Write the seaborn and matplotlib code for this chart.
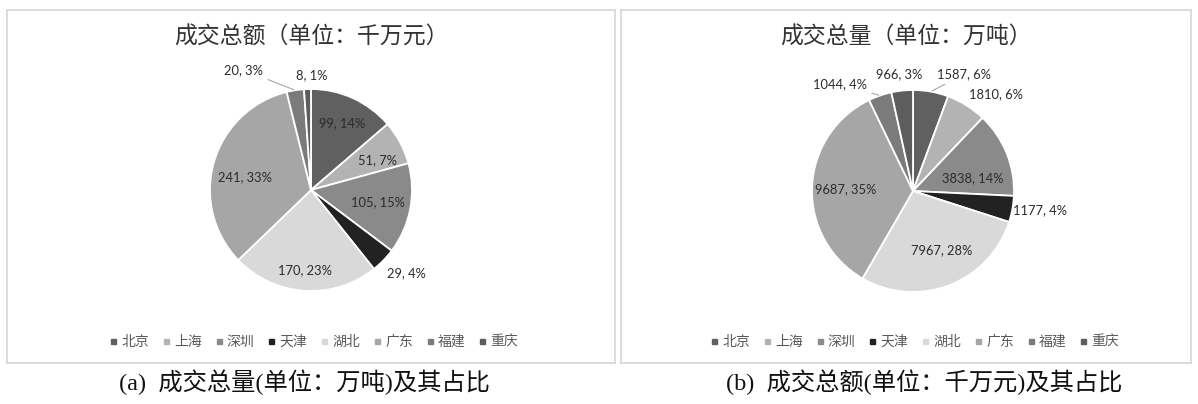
import numpy as np
import matplotlib
matplotlib.use("Agg")
import matplotlib.pyplot as plt
from matplotlib.lines import Line2D
import seaborn as sns

# ---- data ----
regions = ["北京", "上海", "深圳", "天津", "湖北", "广东", "福建", "重庆"]

amount_values = [99, 51, 105, 29, 170, 241, 20, 8]            # 千万元
amount_pcts = ["14%", "7%", "15%", "4%", "23%", "33%", "3%", "1%"]

volume_values = [1587, 1810, 3838, 1177, 7967, 9687, 1044, 966]  # 万吨
volume_pcts = ["6%", "6%", "14%", "4%", "28%", "35%", "4%", "3%"]

amount_title = "成交总额（单位：千万元）"
volume_title = "成交总量（单位：万吨）"
caption_a = "(a)  成交总量(单位：万吨)及其占比"
caption_b = "(b)  成交总额(单位：千万元)及其占比"

# ---- style ----
slice_colors = ["#606060", "#b3b3b3", "#8a8a8a", "#222222",
                "#d9d9d9", "#a6a6a6", "#7b7b7b", "#5d5d5d"]

# label distance (in radii) and angular nudge (deg) from each wedge's mid-angle
amount_label_dist = [0.73, 0.72, 0.67, 1.25, 0.80, 0.67, 1.36, 1.14]
amount_label_nudge = [0, -3.6, 0.6, 3.1, -0.5, 4.9, 20.3, -2.5]
amount_leader = [False, False, False, False, False, False, True, False]

volume_label_dist = [1.26, 1.26, 0.61, 1.27, 0.65, 0.67, 1.28, 1.17]
volume_label_nudge = [-13.4, -8.8, -9.6, 1.8, 4.4, 0.4, 15.2, 0.6]
volume_leader = [True, False, False, False, False, False, True, False]

W, H = 1198, 404
sns.set_theme(style="white")
plt.rcParams["font.family"] = ["Noto Sans CJK SC", "DejaVu Sans"]

fig = plt.figure(figsize=(W / 100, H / 100), dpi=100)
fig.patch.set_facecolor("white")

CJK = ["Noto Sans CJK SC", "DejaVu Sans"]
LABEL_FONT = ["Lato", "DejaVu Sans"]
SERIF = ["Liberation Serif", "Noto Sans CJK SC"]
R_PX = 101.0


def panel(box, center, values, pcts, title, dists, nudges, leaders, legend_x):
    x0, y0, x1, y1 = box
    cx, cy = center
    ax = fig.add_axes([x0 / W, 1 - y1 / H, (x1 - x0) / W, (y1 - y0) / H])
    ax.pie(values, colors=slice_colors, startangle=90, counterclock=False,
           radius=1.0, center=(0, 0), frame=True,
           wedgeprops=dict(edgecolor="white", linewidth=1.3))
    ax.set_aspect("auto")
    ax.set_xlim((x0 - cx) / R_PX, (x1 - cx) / R_PX)
    ax.set_ylim((cy - y1) / R_PX, (cy - y0) / R_PX)
    ax.set_xticks([])
    ax.set_yticks([])
    for sp in ax.spines.values():
        sp.set_visible(True)
        sp.set_color("#d9d9d9")
        sp.set_linewidth(1.3)

    total = float(np.sum(values))
    cum = np.cumsum([0] + list(values))[:-1]
    for v, c0, p, d, nd, lead in zip(values, cum, pcts, dists, nudges, leaders):
        mid = 90 - 360 * (c0 + v / 2) / total
        a = np.deg2rad(mid + nd)
        lx, ly = d * np.cos(a), d * np.sin(a)
        txt = f"{v}, {p}"
        if lead:
            m = np.deg2rad(mid)
            ax.annotate(txt, xy=(np.cos(m), np.sin(m)), xytext=(lx, ly),
                        ha="center", va="center", fontsize=9.3,
                        family=LABEL_FONT, color="#2b2b2b",
                        arrowprops=dict(arrowstyle="-", color="#a6a6a6",
                                        lw=0.8, shrinkA=1, shrinkB=1))
        else:
            ax.text(lx, ly, txt, ha="center", va="center", fontsize=9.3,
                    family=LABEL_FONT, color="#2b2b2b")

    fig.text((x0 + x1) / 2 / W, 1 - 37 / H, title, ha="center", va="center",
             fontsize=16.5, family=CJK, color="#333333")

    handles = [Line2D([], [], marker="s", linestyle="", markersize=3.6,
                      color=c) for c in slice_colors]
    ax.legend(handles, regions, loc="center",
              bbox_to_anchor=(legend_x / W, 1 - 342 / H),
              bbox_transform=fig.transFigure, ncol=8, frameon=False,
              handlelength=0.5, handletextpad=0.35, columnspacing=0.95,
              borderpad=0, prop=dict(family=CJK, size=10),
              labelcolor="#595959")
    return ax


panel((7, 10, 615, 363), (311, 190), amount_values, amount_pcts, amount_title,
      amount_label_dist, amount_label_nudge, amount_leader, 314)
panel((621, 10, 1191, 363), (913, 191), volume_values, volume_pcts, volume_title,
      volume_label_dist, volume_label_nudge, volume_leader, 915)

fig.text(304 / W, 1 - 382 / H, caption_a, ha="center", va="center",
         fontsize=17.5, family=SERIF, color="#111111")
fig.text(924 / W, 1 - 382 / H, caption_b, ha="center", va="center",
         fontsize=17.5, family=SERIF, color="#111111")

fig.savefig("out.png", dpi=100, facecolor="white")
